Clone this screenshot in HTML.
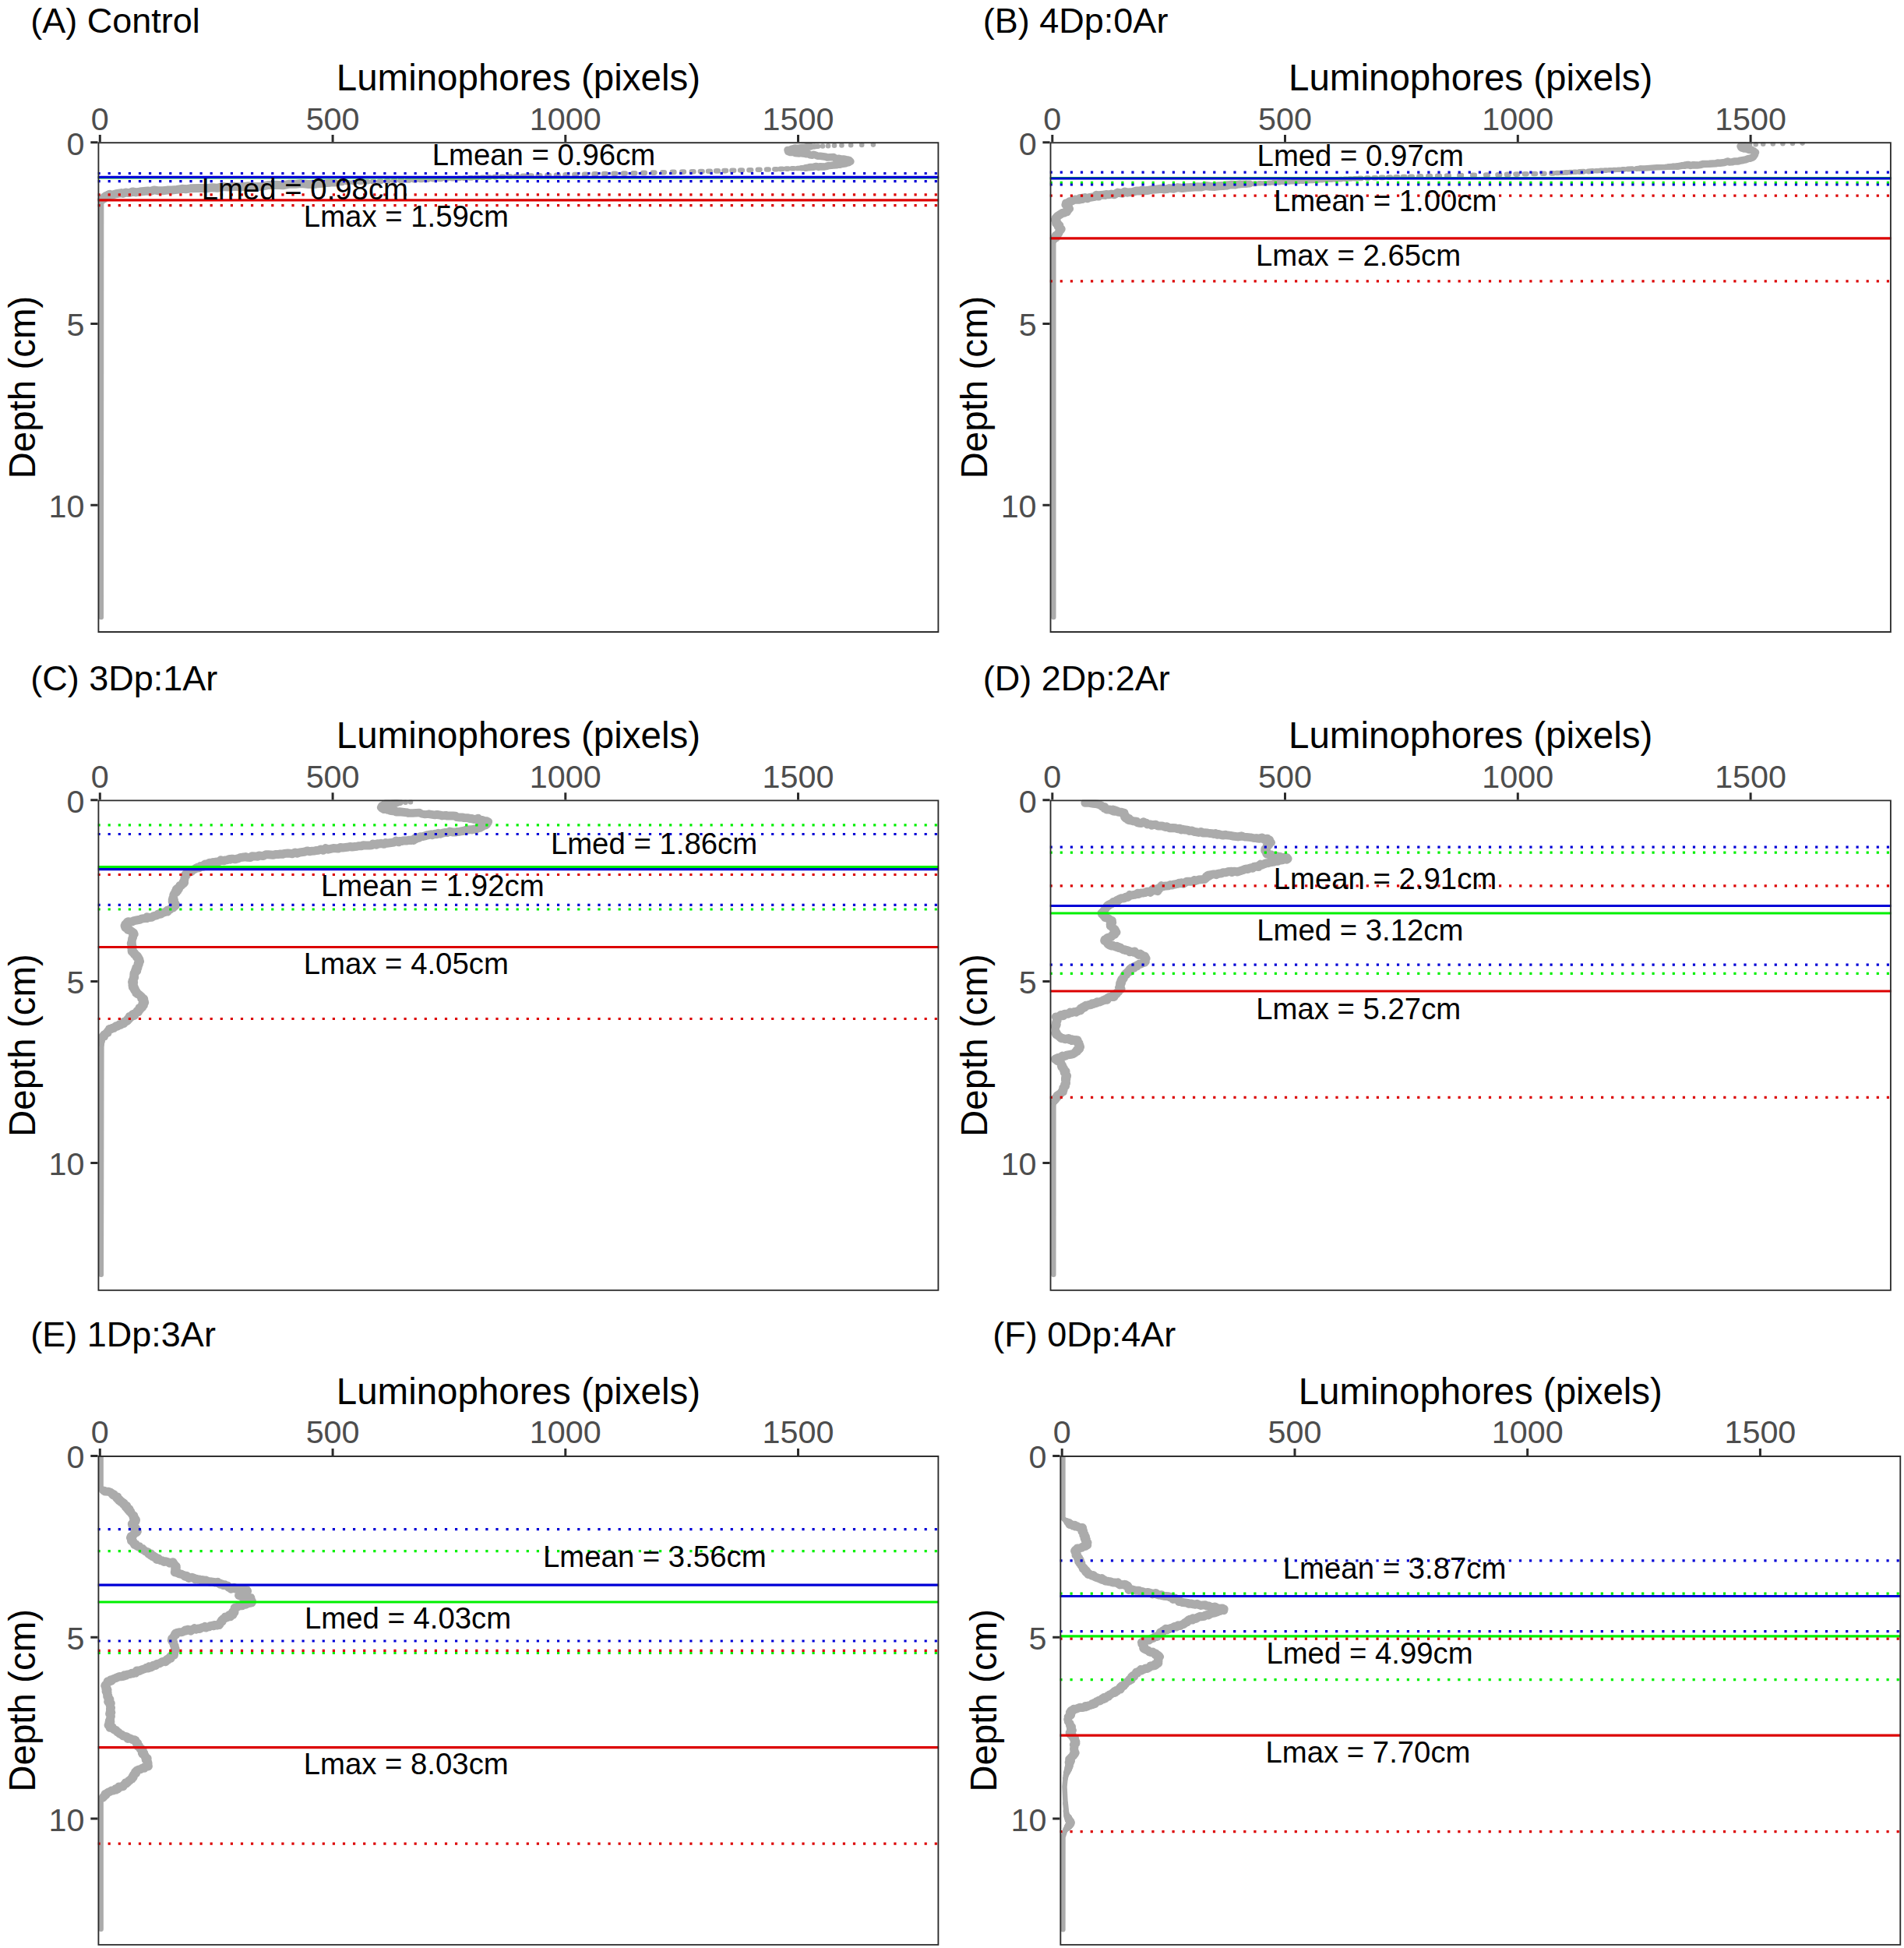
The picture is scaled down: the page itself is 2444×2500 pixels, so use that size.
<!DOCTYPE html>
<html lang="en">
<head>
<meta charset="utf-8">
<title>Luminophore depth profiles</title>
<style>
html,body{margin:0;padding:0;background:#fff;}
body{width:2444px;height:2500px;overflow:hidden;font-family:"Liberation Sans",Arial,sans-serif;}
svg{display:block;}
</style>
</head>
<body>
<svg width="2444" height="2500" viewBox="0 0 2444 2500" font-family="'Liberation Sans', Arial, sans-serif">
<rect width="2444" height="2500" fill="#fff"/>
<g id="panelA">
<clipPath id="cA"><rect x="125.5" y="182.3" width="1079.8" height="629.6"/></clipPath>
<text x="39.3" y="41.7" font-size="45.0" fill="#000" text-anchor="start">(A) Control</text>
<text x="665.4" y="115.9" font-size="47.5" fill="#000" text-anchor="middle">Luminophores (pixels)</text>
<text x="44.6" y="497.1" font-size="47.5" fill="#000" text-anchor="middle" transform="rotate(-90 44.6 497.1)">Depth (cm)</text>
<text x="128.3" y="166.5" font-size="41.3" fill="#4d4d4d" text-anchor="middle">0</text>
<text x="427.1" y="166.5" font-size="41.3" fill="#4d4d4d" text-anchor="middle">500</text>
<text x="725.8" y="166.5" font-size="41.3" fill="#4d4d4d" text-anchor="middle">1000</text>
<text x="1024.5" y="166.5" font-size="41.3" fill="#4d4d4d" text-anchor="middle">1500</text>
<text x="108.5" y="198.5" font-size="41.3" fill="#4d4d4d" text-anchor="end">0</text>
<text x="108.5" y="431.3" font-size="41.3" fill="#4d4d4d" text-anchor="end">5</text>
<text x="108.5" y="664.1" font-size="41.3" fill="#4d4d4d" text-anchor="end">10</text>
<path d="M128.3 182.3v-9.2M427.1 182.3v-9.2M725.8 182.3v-9.2M1024.5 182.3v-9.2M125.5 182.7h-9.2M125.5 415.5h-9.2M125.5 648.3h-9.2" stroke="#2b2b2b" stroke-width="3" fill="none"/>
<g clip-path="url(#cA)">
<g fill="none" stroke="#ababab" stroke-linecap="round" stroke-linejoin="round">
<path d="M1050 187.8L1045 188.1M1029 215.7L1023.7 216M130.1 259.7L129.8 792" stroke-width="6.5"/>
<path d="M1120.9 185.6h0M1106.2 185.9h0M1092.2 186.2h0M1080.4 186.5h0M1071 186.8h0M1063 187.2h0M1056 187.5h0M1016.5 216.3h2.6M1009.1 216.6h2.6M1001.7 216.9h2.6M994.3 217.2h2.6M984 217.5h2.6M972.8 217.8h2.6M961.5 218.2h2.6M950.2 218.5h2.6M939.5 218.8h2.6M929.4 219.1h2.6M919.2 219.4h2.6M909.1 219.7h2.6M898.9 220h2.6M887.8 220.3h2.6M875.3 220.6h2.6M862.8 220.9h2.6M850.2 221.3h2.6M837.7 221.6h2.6M825.2 221.9h2.6M812.6 222.2h2.6M800.1 222.5h2.6M787.6 222.8h2.6M775.1 223.1h2.6M762.5 223.4h2.6M750 223.7h2.6M737.4 224h2.6M725.6 224.4h2.6M714 224.7h2.6M702.4 225h2.6M690.7 225.3h2.6M679.9 225.6h2.6M670.8 225.9h2.6M661.8 226.2h2.6M652.7 226.5h2.6M643.7 226.8h2.6M634.7 227.1h2.6M626.2 227.5h2.6M618.5 227.8h2.6M610.7 228.1h2.6M603 228.4h2.6M595.2 228.7h2.6M587.5 229h2.6M579.7 229.3h2.6M571.7 229.6h2.6M563.6 229.9h2.6M555.4 230.2h2.6M547.3 230.6h2.6M539.2 230.9h2.6M531 231.2h2.6M522.7 231.5h2.6M513.7 231.8h2.6M504.7 232.1h2.6M495.8 232.4h2.6M486.8 232.7h2.6M477.9 233h2.6M469.7 233.3h2.6M461.5 233.7h2.6M453.3 234h2.6M445.2 234.3h2.6M436.9 235h2.6" stroke-width="6.6"/>
<path d="M1045 188.1L1040.4 188.3M130.3 258.2L130.1 259.7" stroke-width="7"/>
<path d="M1034.2 215.5L1029 215.7M130.6 256.8L130.3 258.2" stroke-width="7.5"/>
<path d="M131.1 257.1L130.6 256.8" stroke-width="8"/>
<path d="M1040.4 188.3L1036.1 188.6M1039.7 214.6L1034.2 215.5M130.5 256.3L131.1 257.1" stroke-width="9"/>
<path d="M1036.1 188.6L1033.4 189.2L1027.9 189.7L1023.6 190.4L1020.5 189.9L1018.6 190.7L1016.3 191.2L1013.4 192.8L1011 192.4L1011.5 194.5L1014.2 195.4L1017.4 195.2L1019.3 195.8L1020.5 196.5L1026.3 196.9L1028.1 196.6L1030.6 197.1L1032.5 197.2L1034.6 197.8L1038 197.5L1039.4 198.7L1043 199.2L1044.2 198.2L1047.5 199.3L1049.4 200.2L1052.8 200.2L1060 201.3L1061.7 201.9L1070.1 201.6L1072.1 203.1L1074.2 203.6L1077 203.2L1080.8 204.3L1082.5 204L1085.2 204.5L1086.5 205.2L1088.8 205L1090.4 205.7L1091.9 207.3L1090.5 207.8L1089.1 208.8L1087 209L1085.6 209.8L1080.6 210.5L1077.7 211.3L1075.4 211.1L1073.7 211.8L1070 211.9L1067.6 212.2L1064.1 212.4L1060.1 213.6L1057.3 214.1L1053.1 213.7L1050.5 214.4L1047.9 213.4L1044.7 214.2L1039.7 214.6M430.2 234.8L422.6 234.7" stroke-width="9.5"/>
<path d="M422.6 234.7L413.5 235.4M131.4 256.3L130.5 256.3" stroke-width="10"/>
<path d="M413.5 235.4L404.6 236.2M130.7 255.8L131.4 256.3" stroke-width="10.5"/>
<path d="M404.6 236.2L396.2 236.5L386.9 235.6L379.6 236.2L370.3 236.3L363.1 237.8L354.5 237.2L344.9 237.4L336.5 239.2L326.9 239.5L319.1 238.8L308.7 240L301 239.2L292.5 240.1L285.5 239.6L278.8 241.3L272.4 240.7L264.7 241.7L258.7 241.5L244.3 241.8L238.4 242.8L233.4 242.3L227 243.4L220.8 244L214.6 244.1L209.2 244.8L202.4 244.7L197.7 243.9L193.6 245.4L189.9 245.1L179.4 246.1L174.6 246.9L170.2 246L165.9 247.6L161.2 247L157.9 248.4L155.9 247.6L149 248.7L144.6 250L141.9 250.3L140.7 249.3L138.2 250.5L138.3 252L137 252.6L135.7 251.4L135.1 253.6L133.7 252.9L133 255.1L131.4 255L130.7 255.8" stroke-width="11"/>
</g>
<path d="M125.5 228H1205.3" stroke="#00f000" stroke-width="3.2"/>
<path d="M125.5 227.3H1205.3" stroke="#0000d6" stroke-width="3.2"/>
<path d="M125.5 222.5H1205.3" stroke="#0000d6" stroke-width="3.2" stroke-dasharray="3.2 9.9"/>
<path d="M125.5 232.7H1205.3" stroke="#0000d6" stroke-width="3.2" stroke-dasharray="3.2 9.9"/>
<path d="M125.5 249.9H1205.3" stroke="#dc0000" stroke-width="3.2" stroke-dasharray="3.2 9.9"/>
<path d="M125.5 256.8H1205.3" stroke="#dc0000" stroke-width="3.2"/>
<path d="M125.5 263.6H1205.3" stroke="#dc0000" stroke-width="3.2" stroke-dasharray="3.2 9.9"/>
<text x="698" y="212.3" font-size="38.35" fill="#000" text-anchor="middle">Lmean = 0.96cm</text>
<text x="391.4" y="256.3" font-size="38.35" fill="#000" text-anchor="middle">Lmed = 0.98cm</text>
<text x="521.4" y="291.1" font-size="38.35" fill="#000" text-anchor="middle">Lmax = 1.59cm</text>
<rect x="125.5" y="182.3" width="1079.8" height="629.6" fill="none" stroke="#2b2b2b" stroke-width="3.7"/>
</g>
</g>
<g id="panelB">
<clipPath id="cB"><rect x="1347.6" y="182.3" width="1080.2" height="629.6"/></clipPath>
<text x="1261.8" y="41.7" font-size="45.0" fill="#000" text-anchor="start">(B) 4Dp:0Ar</text>
<text x="1887.7" y="115.9" font-size="47.5" fill="#000" text-anchor="middle">Luminophores (pixels)</text>
<text x="1266.7" y="497.1" font-size="47.5" fill="#000" text-anchor="middle" transform="rotate(-90 1266.7 497.1)">Depth (cm)</text>
<text x="1350.8" y="166.5" font-size="41.3" fill="#4d4d4d" text-anchor="middle">0</text>
<text x="1649.5" y="166.5" font-size="41.3" fill="#4d4d4d" text-anchor="middle">500</text>
<text x="1948.3" y="166.5" font-size="41.3" fill="#4d4d4d" text-anchor="middle">1000</text>
<text x="2247.1" y="166.5" font-size="41.3" fill="#4d4d4d" text-anchor="middle">1500</text>
<text x="1330.6" y="198.5" font-size="41.3" fill="#4d4d4d" text-anchor="end">0</text>
<text x="1330.6" y="431.3" font-size="41.3" fill="#4d4d4d" text-anchor="end">5</text>
<text x="1330.6" y="664.1" font-size="41.3" fill="#4d4d4d" text-anchor="end">10</text>
<path d="M1350.8 182.3v-9.2M1649.5 182.3v-9.2M1948.3 182.3v-9.2M2247.1 182.3v-9.2M1347.6 182.7h-9.2M1347.6 415.5h-9.2M1347.6 648.3h-9.2" stroke="#2b2b2b" stroke-width="3" fill="none"/>
<g clip-path="url(#cB)">
<g fill="none" stroke="#ababab" stroke-linecap="round" stroke-linejoin="round">
<path d="M2246 185.5L2241.8 185.8L2238.9 186.3M1352.8 308.8L1352.3 311.9L1352.3 792.1" stroke-width="6.5"/>
<path d="M2313.6 183.6h0M2301 183.9h0M2288.4 184.2h0M2275.8 184.5h0M2263.2 184.8h0M2253.7 185.2h0M2082.5 217.4h2.6M2076.8 217.7h2.6M2071.1 218h2.6M2065.5 218.3h2.6M2059.8 218.6h2.6M2054.2 218.9h2.6M2048.5 219.3h2.6M2020.4 220.8h2.6M2014.8 221.1h2.6M2009.2 221.4h2.6M2003.5 221.7h2.6M1997.9 222h2.6M1991.3 222.4h2.6M1979.9 222.7h2.6M1968.4 223h2.6M1956.9 223.3h2.6M1945.5 223.6h2.6M1934 223.9h2.6M1922.5 224.2h2.6M1907.2 224.5h2.6M1890.2 224.8h2.6M1873.3 225.1h2.6M1857.2 225.5h2.6M1845.2 225.8h2.6M1833.3 226.1h2.6M1821.4 226.4h2.6M1810.2 226.7h2.6M1800.8 227h2.6M1791.5 227.3h2.6M1782.2 227.6h2.6M1772.8 227.9h2.6M1763.5 228.2h2.6M1754.1 228.6h2.6M1744.8 228.9h2.6M1738.2 229.2h2.6M1731.9 229.5h2.6M1725.7 229.8h2.6M1719.5 230.1h2.6M1713.3 230.4h2.6M1707 230.7h2.6M1700.8 231h2.6M1694.7 231.3h2.6M1688.7 231.7h2.6M1682.7 232h2.6M1676.8 232.3h2.6M1670.8 232.6h2.6M1664.8 232.9h2.6M1658.8 233.2h2.6M1652.8 233.5h2.6M1646.7 233.8h2.6M1640.5 234.1h2.6M1634.2 234.4h2.6M1628.1 234.7h2.6M1621.9 235.2h2.6M1615.8 235.3h2.6M1609.2 235.9h2.6" stroke-width="6.6"/>
<path d="M2105.8 216L2100.7 216.4M2095 216.7L2089.5 217.1M2044.2 219.6L2038.6 219.9M2032.9 220.2L2027.3 220.5" stroke-width="7"/>
<path d="M2142.6 214L2137.2 214.5L2127.1 214.8L2111.1 215.9L2105.8 216M1352.8 308.2L1352.8 308.8" stroke-width="7.5"/>
<path d="M2147.7 213.7L2142.6 214M1353 307.9L1352.8 308.2" stroke-width="8"/>
<path d="M2153 213.6L2147.7 213.7M1353.2 307.5L1353 307.9" stroke-width="8.5"/>
<path d="M2162.7 212.2L2158.4 212.6L2153 213.6M1604.5 236L1599 236.2M1353.8 306.5L1353.2 307.5" stroke-width="9"/>
<path d="M2238.9 186.3L2237.1 186.3L2235.4 186.6L2234.1 187.7L2234.8 189.2L2235.8 190L2238.2 190.9L2240.7 191L2242.6 191.4L2245 192.5L2248.3 192L2249.6 193.4L2251.2 193.8L2252 194.8L2253.5 195.5L2252.4 196.7L2252.6 198.2L2250.8 201.1L2249.1 202.3L2246.4 203.2L2244.6 203.4L2240.7 204.9L2237.9 205.4L2236.2 205.8L2233.2 206.2L2231.7 206.8L2230.3 207L2226.2 207L2223.3 207.8L2220.1 207.9L2217.8 207.1L2213.6 208.5L2207.6 209.3L2204.8 209.1L2202.6 209.8L2197.9 209.9L2194 210.2L2186.6 210.4L2182.2 211.6L2178.6 212.1L2173.6 211.7L2170.1 212.4L2166.7 211.4L2162.7 212.2M1599 236.2L1591.4 236.4M1353.3 306.8L1353.8 306.5" stroke-width="9.5"/>
<path d="M1591.4 236.4L1585.5 237.3M1353.4 306L1353.3 306.8" stroke-width="10"/>
<path d="M1585.5 237.3L1580.6 236.9L1575 238M1353.4 306L1353.4 306" stroke-width="10.5"/>
<path d="M1575 238L1569.7 238.6L1564.2 238.7L1559.6 239.4L1553.3 239.3L1547.4 238.5L1542.1 240L1537.3 239.7L1523.4 240.7L1517.5 241.5L1511.9 240.6L1506.5 242.2L1500.7 241.6L1497.9 242.6L1493.7 242.9L1490.1 242.2L1483.2 243.1L1478.9 243.3L1472.2 244.6L1468.3 244.9L1466 243.9L1463.4 245.1L1458.6 245.1L1453.7 246.6L1450.3 246.7L1447.4 247.2L1443.7 246L1440.6 248.2L1434.7 247.1L1430.6 249.7L1426.5 249.1L1422.8 249.8L1420 249.6L1418.6 250.4L1416.4 250.1L1410.2 250.7L1410.2 252.1L1407.2 250.4L1405.2 252.4L1398 253.6L1396 254.7L1392.5 253.6L1389.4 254.1L1389.3 255.5L1386 254.5L1386.2 256.1L1384.8 256.3L1381.9 256.3L1379.7 256L1374.6 258.4L1373 258.6L1370.6 260.4L1368.4 260.8L1368.3 262.6L1368.4 261.3L1368 262.6L1369.5 263.3L1369.9 265.1L1370.6 266.5L1371.6 265.3L1371.2 267.2L1372.6 267.9L1371.2 268.1L1370.8 269.8L1369.4 270L1369.6 271.8L1367.7 271.6L1366.3 273L1363.7 273.5L1357.1 277.7L1356.4 278.7L1355 279.9L1356.3 280.8L1354.3 282L1355.2 283.5L1355.6 285.2L1355.6 286.6L1357.2 285.9L1356.9 287.5L1358.2 287.4L1359 289L1358.1 290.6L1359.9 289.3L1358.5 289.3L1360.1 290.3L1360.1 292L1360.3 293.6L1361.1 295.4L1362.2 293.9L1360.3 295.3L1358.9 299.3L1356.3 301.9L1357.5 300.4L1356.8 302.2L1355.5 302.2L1355.3 302.2L1356.3 303.8L1355.3 305.1L1354.6 303.8L1354.3 305.3L1353.4 306" stroke-width="11"/>
</g>
<path d="M1347.6 228.6H2427.8" stroke="#00f000" stroke-width="3.2"/>
<path d="M1347.6 234.4H2427.8" stroke="#00f000" stroke-width="3.2" stroke-dasharray="3.2 9.9"/>
<path d="M1347.6 229H2427.8" stroke="#0000d6" stroke-width="3.2"/>
<path d="M1347.6 221.2H2427.8" stroke="#0000d6" stroke-width="3.2" stroke-dasharray="3.2 9.9"/>
<path d="M1347.6 237H2427.8" stroke="#0000d6" stroke-width="3.2" stroke-dasharray="3.2 9.9"/>
<path d="M1347.6 251.2H2427.8" stroke="#dc0000" stroke-width="3.2" stroke-dasharray="3.2 9.9"/>
<path d="M1347.6 305.9H2427.8" stroke="#dc0000" stroke-width="3.2"/>
<path d="M1347.6 360.9H2427.8" stroke="#dc0000" stroke-width="3.2" stroke-dasharray="3.2 9.9"/>
<text x="1746.2" y="213.4" font-size="38.35" fill="#000" text-anchor="middle">Lmed = 0.97cm</text>
<text x="1778.2" y="271.2" font-size="38.35" fill="#000" text-anchor="middle">Lmean = 1.00cm</text>
<text x="1743.6" y="340.6" font-size="38.35" fill="#000" text-anchor="middle">Lmax = 2.65cm</text>
<rect x="1347.6" y="182.3" width="1080.2" height="629.6" fill="none" stroke="#2b2b2b" stroke-width="3.7"/>
</g>
</g>
<g id="panelC">
<clipPath id="cC"><rect x="125.5" y="1026.4" width="1079.8" height="630.4"/></clipPath>
<text x="39.3" y="885.8" font-size="45.0" fill="#000" text-anchor="start">(C) 3Dp:1Ar</text>
<text x="665.4" y="960" font-size="47.5" fill="#000" text-anchor="middle">Luminophores (pixels)</text>
<text x="44.6" y="1341.6" font-size="47.5" fill="#000" text-anchor="middle" transform="rotate(-90 44.6 1341.6)">Depth (cm)</text>
<text x="128.3" y="1010.6" font-size="41.3" fill="#4d4d4d" text-anchor="middle">0</text>
<text x="427.1" y="1010.6" font-size="41.3" fill="#4d4d4d" text-anchor="middle">500</text>
<text x="725.8" y="1010.6" font-size="41.3" fill="#4d4d4d" text-anchor="middle">1000</text>
<text x="1024.5" y="1010.6" font-size="41.3" fill="#4d4d4d" text-anchor="middle">1500</text>
<text x="108.5" y="1042.6" font-size="41.3" fill="#4d4d4d" text-anchor="end">0</text>
<text x="108.5" y="1275.4" font-size="41.3" fill="#4d4d4d" text-anchor="end">5</text>
<text x="108.5" y="1508.2" font-size="41.3" fill="#4d4d4d" text-anchor="end">10</text>
<path d="M128.3 1026.4v-9.2M427.1 1026.4v-9.2M725.8 1026.4v-9.2M1024.5 1026.4v-9.2M125.5 1026.8h-9.2M125.5 1259.6h-9.2M125.5 1492.4h-9.2" stroke="#2b2b2b" stroke-width="3" fill="none"/>
<g clip-path="url(#cC)">
<g fill="none" stroke="#ababab" stroke-linecap="round" stroke-linejoin="round">
<path d="M130.4 1340.5L129.8 1635.7" stroke-width="6.5"/>
<path d="M527 1029.3h0M520.5 1029.7h0" stroke-width="6.6"/>
<path d="M130.8 1337.1L130.4 1340.5" stroke-width="7"/>
<path d="M131.1 1334.5L131 1336.2L130.8 1337.1" stroke-width="7.5"/>
<path d="M131 1332.2L131.1 1334.5" stroke-width="8"/>
<path d="M513.7 1029.8L509.7 1030.2M131.7 1331.3L131 1332.2" stroke-width="8.5"/>
<path d="M132.2 1330.5L131.7 1331.3" stroke-width="9"/>
<path d="M509.7 1030.2L507.6 1030.8" stroke-width="9.5"/>
<path d="M538.1 1043L541.8 1044.6L545.5 1045.2L550.5 1044.7M131.9 1330L132.2 1330.5" stroke-width="10"/>
<path d="M507.6 1030.8L505.3 1031M522.7 1042.9L525.1 1043.6L529.9 1043.5L538.1 1043M550.5 1044.7L558.3 1046L561.1 1045.5M133.4 1330.1L131.9 1330" stroke-width="10.5"/>
<path d="M505.3 1031L502.7 1031.3L499.3 1031.9L496.3 1031.1L495.3 1032.1L493.3 1032.7L491.6 1034.6L490.3 1034.5L489.4 1036.2L490.3 1037.1L493 1038.5L496.3 1038.6L497.6 1039.2L500.7 1038.7L501 1040.3L504.4 1040.8L504.4 1039.4L507.4 1040.7L508.4 1041.9L512.6 1041.8L522.7 1042.9M561.1 1045.5L565.3 1046.1L567.5 1046.9L572 1046.4L573.7 1046.9L577.6 1047.1L581.6 1047L584.5 1047.2L586.3 1048.6L590.3 1049L592.8 1048.9L595.6 1049.5L600.7 1049.8L602.9 1050.4L605.6 1050.6L608.7 1051.5L610.5 1051.5L613.6 1050.2L613.5 1052.1L619 1052.6L621.7 1053.4L624.3 1053.8L624.3 1055.2L626 1056L626.6 1054.5L625.6 1055.8L625 1057.5L623.8 1058.7L621.7 1059.4L619.3 1058.8L618.1 1059.5L618.6 1061L616.4 1060.6L616.1 1062.4L612.3 1063.2L610.5 1064.5L608.7 1063.9L605.4 1064.9L603.9 1064.7L598.5 1065L596.8 1066L590.2 1067.2L587.1 1067.4L585 1068L580.8 1067.9L577.1 1067.1L574 1068.6L571.7 1068.4L568.2 1069.1L565 1070.2L562.7 1069.2L560.6 1070.8L558.1 1070.2L555.2 1071.6L553.4 1070.8L547.8 1072L546.2 1072.6L543 1073.5L539.1 1073.8L538.1 1075.3L536.7 1075.4L534.4 1074.7L533.8 1076.8L532.3 1076.2L531 1078.4L529.3 1077.7L527.6 1078.5L524.4 1078.2L522.6 1079L520.1 1078.8L517.1 1079L515.8 1079.6L512.4 1079.4L511.9 1080.8L508.3 1079L505.7 1081L496.5 1082.3L495.1 1081.6L493.1 1083.3L489 1082.3L487.3 1083L484.3 1082.7L483.1 1084.1L478.7 1083.1L477.5 1084.7L474.5 1084.9L469.9 1084.9L466.2 1084.7L464.3 1085.7L460.9 1085.7L458.5 1086.2L455.5 1086.5L451.9 1087.1L449.1 1086.5L445.7 1087.3L439.9 1088L436.8 1087.5L434 1089.1L431 1088.7L427.9 1088.6L421.1 1090.2L418 1088.6L414.9 1091.2L412.2 1089.9L408.9 1091.3L406.4 1091.4L403.9 1092L399.9 1092.2L397.8 1092.8L394.3 1091.9L390.5 1093.3L384.7 1094L381.2 1095.2L378.9 1094L375.1 1095.8L371.8 1095.2L369.4 1095L365.1 1095.4L362.8 1096.3L360 1096L356.9 1096.6L353.4 1096.6L350.2 1097.3L344.4 1096.7L341.2 1096.7L338.1 1098.4L335.9 1098.4L332.5 1098L330.7 1099.3L327.4 1098.9L323.7 1098.7L321.3 1100.5L316.9 1100.3L315.3 1099.6L311 1100.3L308.8 1100.4L306.2 1101.7L301.7 1102.8L298.4 1102.2L296.9 1102.2L295.7 1103.1L294.3 1102.5L291.6 1103.7L288.8 1103.9L287.6 1104.8L285.4 1104.6L283.6 1103.8L281.5 1105.6L276.7 1106.3L275.4 1107.1L273.4 1106.6L271.7 1107.4L268.8 1107.3L264.2 1110L263.3 1108.9L261.3 1110.7L261.1 1112.1L259.4 1112L257.4 1111.5L255.4 1113.9L254.2 1113L252 1113.8L250.5 1115.2L248.1 1116.2L246.9 1116.9L245.7 1118.6L243.5 1119.3L244.7 1117.9L242.7 1118L243.7 1118.9L242 1119.2L241 1120.6L239.5 1121.1L238.1 1122.1L238.7 1124.1L239.8 1122.5L237.8 1123.9L237 1126.1L237 1128L236.5 1129.4L236.8 1129.1L236.4 1130.9L235.1 1132.1L236.6 1132.5L235.7 1133.8L235.2 1132.5L234.9 1133.9L233.5 1135.6L232.3 1136.7L230.9 1136.4L231.2 1137.9L229.8 1139L229.5 1140.9L227.6 1140.1L228.3 1142L228 1143.3L226.4 1141.2L226.8 1143.2L226.6 1144.9L225.3 1143.8L224.6 1145.7L223.6 1147L222.8 1148.6L222.9 1150L222.6 1151.4L221.9 1152.6L221.3 1154.7L222.3 1155.6L221.2 1157.1L223.3 1155L222.3 1156.6L223.1 1157.9L224.4 1158.8L225.5 1160.7L224 1161.5L225.2 1160.7L224.5 1161.8L225.7 1161L225.1 1162.4L223.8 1163L222.4 1164.8L221 1164L221 1165.4L219.7 1165.4L218.4 1167L215.6 1168.7L215.1 1170.1L214.8 1168.3L212.6 1170.3L209.4 1171.4L206.3 1171.3L206.9 1172.9L205 1173.3L202.6 1173.3L201.5 1174.7L197.5 1175.6L194.8 1177.2L191.6 1177.4L189 1176.9L188.3 1178.6L186.1 1178.6L182.5 1178.9L181.3 1179.3L179.4 1180.3L173.8 1181.2L171.4 1181.9L169.6 1182.9L166.6 1183L164.2 1182.7L162.9 1184L162.9 1187L160.9 1185.9L162.4 1186L161.6 1187.4L160.1 1188L161.3 1188.7L161.5 1190.4L160.2 1188.5L161 1190.7L162.3 1190.3L164.1 1192.5L162.9 1191.3L164.9 1192.3L164.1 1193.4L165.7 1193.1L171.4 1197L172.2 1198.9L170.7 1199.4L170.7 1201.9L170.5 1203.3L169.7 1204.5L169.2 1208.3L169.4 1210.9L168.7 1209.4L168.3 1210.9L169.5 1212.6L170 1214.7L168.6 1215.4L169.8 1213.9L170.3 1215.7L168.6 1216.1L169.5 1217.6L169.1 1219.6L169.3 1221.3L170.8 1221.2L172.2 1222.4L170.8 1222.8L172.3 1223.6L172.6 1225L173 1223.7L174.1 1225.1L175.1 1226L176.3 1226.7L175.2 1228.2L176.9 1227.5L176.9 1229L178.1 1229.8L177.3 1228.5L178.9 1231.2L178.4 1232.7L179.6 1233.8L178.3 1233.3L178.6 1234.9L177.4 1235.7L178.5 1236.7L177.1 1236.6L178.3 1237.6L177.4 1239.6L176.9 1241.8L174.8 1241.7L176.8 1242.1L176.3 1243.3L174.7 1243L173.9 1244.8L175.7 1246.2L174.3 1245.5L173.2 1246.7L173.6 1248.5L172.1 1248.9L172.8 1250.5L172.9 1248.8L171.9 1250.1L171.8 1253.1L172.7 1254.1L171.3 1254.9L171.5 1256.9L171.3 1258.9L170.1 1258.2L170.9 1259.6L169.6 1260.3L171.6 1260.9L169.8 1261.3L171.4 1262.9L170.2 1261.9L170 1264.7L171.1 1263.9L170.6 1265.5L172 1266L170.4 1267L171.9 1268.1L173.2 1268.8L172.4 1270.3L173.4 1271.8L174.9 1272.4L174.9 1274.4L176.8 1275.1L178 1276.1L176.7 1275.7L178.8 1276.6L180.3 1277.9L180.9 1279.2L182.4 1280.1L181.6 1279L181.6 1281.3L183.2 1282.7L184.7 1282L184.2 1283.4L185.3 1284.9L183.8 1285.7L185.3 1285L183.9 1285.5L185.7 1286.5L183.9 1285.3L183.8 1287.3L185.1 1286.8L183.6 1286.9L182.9 1288L184 1288.8L182.9 1289.4L183.9 1288.3L184.4 1290L182.8 1290.1L182.7 1292.7L181.2 1292L181.2 1294L178.9 1293.8L178.6 1295.1L179.1 1296.4L177.5 1296.6L176.1 1297.5L177.6 1298.7L176 1298.2L174.1 1300.4L172.1 1300.8L172.7 1303.4L171.3 1303.4L170 1302L169.8 1303.8L171.4 1303.6L168.2 1305.1L166.3 1304.5L167.2 1306.2L164.9 1306.6L165.7 1307.7L164.2 1308L164.1 1309.5L162.7 1310.8L162.9 1309L162.1 1310.6L158.7 1311.6L159 1313.5L157.6 1313.5L154.7 1315.3L153.2 1314.8L152.1 1316.1L150.4 1317.3L152.1 1316.3L150.6 1316.9L149 1316.8L147.2 1318.2L146.2 1319.4L144.4 1319.3L143 1320.5L141.7 1320.3L140.3 1320.8L139.9 1322.1L138.4 1323.5L138.1 1325.4L136.6 1325.6L135.3 1327.4L133.9 1327.8L133.5 1330.1L133.4 1330.1" stroke-width="11"/>
</g>
<path d="M125.5 1058.9H1205.3" stroke="#00f000" stroke-width="3.2" stroke-dasharray="3.2 9.9"/>
<path d="M125.5 1112.5H1205.3" stroke="#00f000" stroke-width="3.2"/>
<path d="M125.5 1167H1205.3" stroke="#00f000" stroke-width="3.2" stroke-dasharray="3.2 9.9"/>
<path d="M125.5 1070.5H1205.3" stroke="#0000d6" stroke-width="3.2" stroke-dasharray="3.2 9.9"/>
<path d="M125.5 1115.6H1205.3" stroke="#0000d6" stroke-width="3.2"/>
<path d="M125.5 1161.3H1205.3" stroke="#0000d6" stroke-width="3.2" stroke-dasharray="3.2 9.9"/>
<path d="M125.5 1122.5H1205.3" stroke="#dc0000" stroke-width="3.2" stroke-dasharray="3.2 9.9"/>
<path d="M125.5 1215.5H1205.3" stroke="#dc0000" stroke-width="3.2"/>
<path d="M125.5 1307.5H1205.3" stroke="#dc0000" stroke-width="3.2" stroke-dasharray="3.2 9.9"/>
<text x="839.5" y="1096" font-size="38.35" fill="#000" text-anchor="middle">Lmed = 1.86cm</text>
<text x="555.3" y="1150.1" font-size="38.35" fill="#000" text-anchor="middle">Lmean = 1.92cm</text>
<text x="521.3" y="1250" font-size="38.35" fill="#000" text-anchor="middle">Lmax = 4.05cm</text>
<rect x="125.5" y="1026.4" width="1079.8" height="630.4" fill="none" stroke="#2b2b2b" stroke-width="3.7"/>
</g>
</g>
<g id="panelD">
<clipPath id="cD"><rect x="1347.6" y="1026.4" width="1080.2" height="630.4"/></clipPath>
<text x="1261.8" y="885.8" font-size="45.0" fill="#000" text-anchor="start">(D) 2Dp:2Ar</text>
<text x="1887.7" y="960" font-size="47.5" fill="#000" text-anchor="middle">Luminophores (pixels)</text>
<text x="1266.7" y="1341.6" font-size="47.5" fill="#000" text-anchor="middle" transform="rotate(-90 1266.7 1341.6)">Depth (cm)</text>
<text x="1350.8" y="1010.6" font-size="41.3" fill="#4d4d4d" text-anchor="middle">0</text>
<text x="1649.5" y="1010.6" font-size="41.3" fill="#4d4d4d" text-anchor="middle">500</text>
<text x="1948.3" y="1010.6" font-size="41.3" fill="#4d4d4d" text-anchor="middle">1000</text>
<text x="2247.1" y="1010.6" font-size="41.3" fill="#4d4d4d" text-anchor="middle">1500</text>
<text x="1330.6" y="1042.6" font-size="41.3" fill="#4d4d4d" text-anchor="end">0</text>
<text x="1330.6" y="1275.4" font-size="41.3" fill="#4d4d4d" text-anchor="end">5</text>
<text x="1330.6" y="1508.2" font-size="41.3" fill="#4d4d4d" text-anchor="end">10</text>
<path d="M1350.8 1026.4v-9.2M1649.5 1026.4v-9.2M1948.3 1026.4v-9.2M2247.1 1026.4v-9.2M1347.6 1026.8h-9.2M1347.6 1259.6h-9.2M1347.6 1492.4h-9.2" stroke="#2b2b2b" stroke-width="3" fill="none"/>
<g clip-path="url(#cD)">
<g fill="none" stroke="#ababab" stroke-linecap="round" stroke-linejoin="round">
<path d="M1352.8 1415.9L1352.4 1417.2L1352.3 1635.7" stroke-width="6.5"/>
<path d="M1353.3 1414.6L1352.8 1415.9" stroke-width="7"/>
<path d="M1353.6 1414L1353.3 1414.6" stroke-width="7.5"/>
<path d="M1354.1 1413.2L1353.6 1414" stroke-width="8"/>
<path d="M1353.6 1411.8L1354.1 1413.2" stroke-width="8.5"/>
<path d="M1354.7 1323L1354.2 1325.8M1354.3 1411.6L1353.6 1411.8" stroke-width="9"/>
<path d="M1354.8 1320.9L1354.5 1322.5L1354.7 1323M1354.9 1411.3L1354.3 1411.6" stroke-width="9.5"/>
<path d="M1354.8 1317.3L1355 1320.8L1354.8 1320.9M1354.2 1325.8L1355.5 1325.8M1355.6 1410L1354.9 1411.3" stroke-width="10"/>
<path d="M1593.8 1073L1598.2 1074.2L1600.3 1074.2L1605.3 1074.7L1609.3 1075.7L1612.9 1075.7M1355.3 1313.9L1354.7 1315.6L1356.3 1315.8L1354.9 1315.2L1354 1317.6L1354.8 1317.3M1355.5 1325.8L1356.2 1327M1355.1 1408.9L1355.6 1410" stroke-width="10.5"/>
<path d="M1392.9 1030.3L1396.5 1030.1L1403.5 1031.2L1408.3 1031.7L1409.9 1032.4L1412 1033.1L1413.5 1033.9L1414.8 1035L1417.8 1035.7L1418.1 1037.5L1419.6 1037.7L1420.6 1038.9L1424.3 1039L1425.9 1039.6L1428.4 1039.1L1428.1 1040.7L1431.1 1041.2L1431.2 1039.8L1434.4 1041.1L1435.5 1042.3L1438.7 1042.2L1442.3 1043.1L1441 1044L1442.7 1043.9L1441.3 1043.6L1443.1 1043.3L1442.8 1045.1L1445 1047.4L1443.9 1048.9L1445.3 1050.2L1447.3 1050.9L1449.5 1050.6L1448.5 1052.5L1452.1 1053L1454.6 1053.8L1459.1 1054.2L1459.9 1055.6L1462.1 1056.2L1465.1 1056.4L1467.8 1054.9L1469.6 1055.9L1471.3 1056.1L1472.8 1057.9L1474.5 1057.7L1476.9 1058L1478.3 1059.1L1480.7 1058.4L1483.5 1058.2L1485.8 1059.8L1487.7 1060.1L1491.6 1059.9L1495.7 1061.4L1497.7 1060.8L1501.3 1062.8L1505.5 1062.5L1509.1 1062.8L1511.4 1063.7L1514.1 1063.2L1516 1064.9L1518.2 1064.3L1521.6 1065.1L1524.4 1065.2L1526.7 1066.4L1530 1065.9L1531.9 1067L1534 1067.6L1536 1067.8L1538.9 1068.4L1541.6 1067.5L1544.1 1069L1547 1068.7L1550.1 1069L1552.4 1069.5L1556.2 1069.7L1558 1070.5L1560.1 1069.6L1562.4 1071.2L1564.3 1070.6L1568.3 1071.7L1570.2 1072L1572.8 1071.2L1574.4 1071.8L1579.7 1072.4L1582.2 1073L1589.1 1073.9L1593.8 1073M1612.9 1075.7L1616.9 1076.2L1620.1 1075L1622.3 1077.2L1623.6 1076.6L1626.7 1076.2L1627.8 1078.8L1629.6 1078L1629.7 1079.4L1631.3 1081.2L1630 1079.4L1629.7 1081.4L1627.6 1082.6L1629 1083.7L1627.2 1082.6L1628.7 1084.5L1626.7 1083.5L1628.2 1085.1L1626.5 1085.3L1626.6 1086.6L1625.5 1087.7L1625.5 1089.5L1623.9 1089.9L1623.9 1091.6L1624.2 1090.3L1623.8 1091.7L1625.4 1093.2L1625.7 1095.6L1626.8 1094.4L1626.4 1096.2L1629.8 1096.9L1631.9 1097.1L1634.1 1098.8L1636.7 1098.8L1638.2 1098.4L1641.3 1099.7L1642.8 1099.3L1646.3 1100.9L1649.5 1100L1652.1 1100.8L1653.1 1102.1L1651.5 1103.2L1648.7 1102.6L1647 1103.5L1643.9 1104.1L1641.8 1104.3L1640.8 1105.2L1638.9 1105L1637.5 1104.1L1635.7 1106L1629.2 1107L1627.8 1107.8L1625.1 1107.7L1622.6 1109L1619.1 1110.4L1617.9 1109.3L1615.7 1111L1615.3 1112.5L1611.7 1112.1L1609.7 1112.2L1608 1114.2L1606.6 1113.4L1603.9 1114.2L1601.6 1115.6L1599.8 1115L1597.6 1115.6L1595.7 1116.6L1588.1 1119L1586.3 1118.5L1583.9 1118.3L1581.2 1119.6L1580.9 1118.3L1577.2 1118.4L1573.9 1119.7L1569.8 1119.7L1567.7 1121L1565.9 1121L1563.1 1121.5L1561.3 1122.6L1559.9 1122L1557.1 1122L1554.8 1122.5L1551.5 1124.5L1550.1 1123.6L1551.9 1122.9L1549.9 1124.3L1548.5 1125L1548.7 1126.4L1546.4 1128.4L1538.4 1129.1L1533.4 1130.9L1533.2 1129.5L1531.4 1130.7L1529.5 1131.3L1523.5 1131.2L1519 1134.1L1516.9 1132.9L1515.8 1133.8L1513.2 1133.2L1512.2 1134.3L1509.6 1134.4L1508.3 1135L1506.8 1135L1505 1136L1502.2 1135.6L1500.1 1136.7L1494.1 1137.3L1492.8 1137.8L1490.8 1136.8L1489.8 1138.3L1488.1 1139.4L1487.7 1141.3L1485.6 1140.4L1486.3 1142.3L1486 1143.7L1484.9 1142.7L1483.5 1143L1479.3 1141.6L1478.2 1143.6L1476.5 1145.3L1474.2 1144.3L1472.2 1144.2L1470.3 1145.4L1469 1145.4L1467.1 1146.1L1465.7 1145.9L1464 1146.2L1461.3 1147.4L1460.4 1146.3L1459 1147.4L1455.8 1148.4L1451.4 1149.1L1450.1 1148.5L1449 1150.3L1447.4 1151.5L1445.6 1151.1L1444.1 1151.8L1443.2 1152.8L1441 1153L1439 1152.8L1436.6 1154L1435.9 1155.1L1434.9 1156.1L1432.2 1157.5L1433.6 1155.4L1430.3 1158.3L1429.1 1157.5L1428.3 1158.6L1427 1159.1L1426.4 1160.3L1424.9 1160.3L1423.4 1161.9L1424 1160.7L1421.6 1162.2L1422.8 1161.3L1422 1162.8L1420.6 1163.4L1419.7 1165.2L1417.7 1167.7L1417.3 1169.3L1415.9 1170.5L1417 1168.7L1415.3 1170.7L1414.1 1171.8L1414.8 1173.3L1416.2 1174.6L1416.6 1173.1L1416.6 1175L1418.3 1174.6L1417.1 1175.4L1418.7 1175.6L1418.4 1177.5L1419.8 1176.9L1421.5 1178.5L1423 1179L1424.2 1179.7L1424.9 1181L1427.4 1181.4L1426.3 1182.3L1427.1 1183.5L1426.1 1184.7L1427.7 1183.9L1426.5 1184.6L1427.1 1187.4L1425.2 1186.3L1426.9 1186.4L1426.7 1187.8L1425.4 1188.4L1426.8 1189.1L1428.2 1190.7L1427.3 1188.9L1428.5 1191.1L1431 1192.7L1429.9 1193.8L1431.5 1193.6L1432.9 1196.5L1431.9 1197.4L1430.4 1197.5L1430.8 1199.3L1429.5 1198.6L1428.1 1199.8L1426.5 1202.3L1424.4 1202.6L1422.4 1203.3L1422.8 1204.6L1421.4 1203.7L1420.2 1204.5L1419.2 1206L1417.7 1207.2L1418.1 1205.7L1418.6 1207.1L1419.7 1208.7L1420.9 1207.9L1422 1209.5L1422 1211.3L1421.6 1209.8L1421.8 1211.2L1422.8 1210.3L1422.6 1212L1424.3 1213L1427.1 1214L1428.7 1213.4L1431.6 1215.1L1433.4 1214.3L1434.8 1216.1L1435.9 1215.3L1436.8 1216.7L1438.3 1216.1L1439.3 1217.2L1442.3 1219L1443.9 1218.8L1445.1 1219.8L1447 1219.6L1449 1220.4L1450.2 1221.7L1451.4 1221.2L1453 1221.4L1455.4 1222.2L1456.3 1221L1457.9 1222.8L1461.6 1225.4L1463.7 1224.1L1465.6 1225.5L1466.6 1226.6L1469.6 1227.1L1468.8 1228.6L1470.2 1228.7L1471.1 1230.2L1469.9 1228.9L1470.6 1230.5L1469.9 1232.1L1470.3 1234.2L1468.8 1233.7L1469 1235.3L1466.4 1236.1L1463.9 1237.3L1462.6 1237L1461.4 1238L1459.8 1238.5L1459.3 1240L1457.4 1239.9L1456 1240.4L1455.5 1242.2L1452.5 1242.1L1454.1 1242.5L1452.3 1243.7L1450.6 1243.4L1449.3 1245.2L1450.7 1246.6L1449.1 1245.9L1447.5 1247.1L1447.2 1248.9L1445.1 1249.3L1445.7 1250.9L1445.2 1249.2L1443 1251.9L1442.5 1253.5L1442.4 1255.6L1441.1 1255.3L1441.1 1257.2L1439.7 1256.9L1440.2 1259.3L1438.9 1258.6L1439.4 1260L1438.2 1260.7L1439.6 1261.3L1437.7 1261.7L1438.9 1263.3L1437.7 1262.3L1437.4 1265.1L1438 1263.9L1437.6 1265.9L1436.7 1267.4L1439.1 1269.2L1437.5 1269.7L1435.6 1272.9L1433.8 1273.8L1433.2 1275.1L1433.4 1275.4L1431.9 1276.5L1429.9 1276.1L1431.3 1277L1429.7 1277.4L1429.9 1279.6L1427.6 1279.3L1426 1279.5L1424.2 1279.4L1422.2 1280.5L1420.8 1281.7L1421.2 1283.1L1420.4 1281.9L1419 1282.4L1417.7 1283.8L1416.3 1283.6L1415.2 1284.4L1411 1286.1L1408.1 1285.7L1407.1 1287.6L1405.2 1287.3L1403.6 1288.4L1401.9 1287.8L1401.4 1289.2L1399.4 1289.8L1397.7 1289.4L1395.9 1290.5L1394 1290.2L1393.4 1291.8L1391.7 1291.6L1392 1293.1L1389.9 1292.4L1389.7 1294.4L1387.2 1294.2L1386.8 1295.5L1387.1 1296.8L1385.4 1297L1384.1 1297.5L1382.2 1297.9L1381.5 1299.1L1379 1298.6L1375.3 1299.7L1373.7 1299L1371.7 1300.8L1370.5 1301.3L1366.6 1301.2L1365 1302.2L1364.9 1303.8L1363.1 1303.8L1361.6 1302.4L1360.7 1304.1L1358.9 1305.5L1357.6 1305.4L1355.3 1304.9L1356.5 1306.6L1356.5 1308.1L1357.1 1309.9L1356 1311.2L1356.5 1309.4L1355.5 1312.6L1356.1 1313.9L1355.3 1313.9M1356.2 1327L1356.3 1325.7L1355.8 1327.8L1357.8 1328L1358.4 1329.4L1360.3 1330.5L1361 1331.7L1362.3 1332.7L1363.8 1332.3L1367.2 1333.8L1368.9 1333.2L1371.6 1332.6L1372.6 1334.5L1375.5 1333.9L1376.2 1335.5L1379.5 1334.5L1381.5 1335.8L1383.1 1334.8L1383.7 1336.8L1383.2 1338.4L1385 1338.6L1384.7 1339.9L1385.9 1341.4L1385.4 1342.6L1386.6 1343.6L1385 1344.6L1385.7 1346.1L1384.3 1345.5L1384.3 1347.2L1382.4 1347.5L1382.3 1349.6L1380.3 1349.9L1379.4 1351.5L1377.3 1352.6L1375.9 1353L1369.2 1354.2L1367.8 1355.1L1365.4 1355.9L1363.7 1355.1L1361.6 1356.4L1360.6 1357.6L1359 1357.2L1354.4 1359.1L1356.9 1359.1L1354.4 1359.4L1356 1360.1L1356.8 1361.3L1358.7 1362L1360.3 1363.2L1361.8 1364L1362.6 1366.1L1362.5 1368.4L1363.6 1367.2L1363.7 1368.7L1364.5 1370.2L1362.9 1369.4L1364.4 1369.8L1365.5 1371.2L1366.3 1373.2L1367.7 1374.5L1365.5 1373.7L1366.1 1375L1368.1 1374.9L1366.7 1376.7L1367.5 1375.5L1366.3 1376.6L1367.8 1377.4L1368.2 1378.7L1369.6 1380.7L1369.2 1382.3L1367.6 1382.8L1367.5 1384.4L1368.8 1385L1367.5 1386.1L1368.5 1388.7L1368.5 1390.2L1367 1391L1366.6 1392.4L1367.6 1393.8L1366.5 1392.5L1366.5 1394.3L1364.8 1396.1L1365.3 1397.5L1365 1399.2L1364.3 1398.1L1364.1 1399.4L1364.3 1401L1362.6 1401.4L1361.9 1403L1358.9 1404.7L1358.5 1406.5L1357 1406.1L1358 1407.4L1356.8 1406.6L1356.1 1408.2L1355.1 1408.9" stroke-width="11"/>
</g>
<path d="M1347.6 1094.2H2427.8" stroke="#00f000" stroke-width="3.2" stroke-dasharray="3.2 9.9"/>
<path d="M1347.6 1172H2427.8" stroke="#00f000" stroke-width="3.2"/>
<path d="M1347.6 1249.4H2427.8" stroke="#00f000" stroke-width="3.2" stroke-dasharray="3.2 9.9"/>
<path d="M1347.6 1087.1H2427.8" stroke="#0000d6" stroke-width="3.2" stroke-dasharray="3.2 9.9"/>
<path d="M1347.6 1162.5H2427.8" stroke="#0000d6" stroke-width="3.2"/>
<path d="M1347.6 1238.2H2427.8" stroke="#0000d6" stroke-width="3.2" stroke-dasharray="3.2 9.9"/>
<path d="M1347.6 1136.9H2427.8" stroke="#dc0000" stroke-width="3.2" stroke-dasharray="3.2 9.9"/>
<path d="M1347.6 1272H2427.8" stroke="#dc0000" stroke-width="3.2"/>
<path d="M1347.6 1408.4H2427.8" stroke="#dc0000" stroke-width="3.2" stroke-dasharray="3.2 9.9"/>
<text x="1778" y="1140.5" font-size="38.35" fill="#000" text-anchor="middle">Lmean = 2.91cm</text>
<text x="1745.8" y="1206.6" font-size="38.35" fill="#000" text-anchor="middle">Lmed = 3.12cm</text>
<text x="1743.7" y="1307.6" font-size="38.35" fill="#000" text-anchor="middle">Lmax = 5.27cm</text>
<rect x="1347.6" y="1026.4" width="1080.2" height="630.4" fill="none" stroke="#2b2b2b" stroke-width="3.7"/>
</g>
</g>
<g id="panelE">
<clipPath id="cE"><rect x="125.5" y="1868.1" width="1079.8" height="628.7"/></clipPath>
<text x="39.3" y="1727.5" font-size="45.0" fill="#000" text-anchor="start">(E) 1Dp:3Ar</text>
<text x="665.4" y="1801.7" font-size="47.5" fill="#000" text-anchor="middle">Luminophores (pixels)</text>
<text x="44.6" y="2182.4" font-size="47.5" fill="#000" text-anchor="middle" transform="rotate(-90 44.6 2182.4)">Depth (cm)</text>
<text x="128.3" y="1852.3" font-size="41.3" fill="#4d4d4d" text-anchor="middle">0</text>
<text x="427.1" y="1852.3" font-size="41.3" fill="#4d4d4d" text-anchor="middle">500</text>
<text x="725.8" y="1852.3" font-size="41.3" fill="#4d4d4d" text-anchor="middle">1000</text>
<text x="1024.5" y="1852.3" font-size="41.3" fill="#4d4d4d" text-anchor="middle">1500</text>
<text x="108.5" y="1884.3" font-size="41.3" fill="#4d4d4d" text-anchor="end">0</text>
<text x="108.5" y="2117.1" font-size="41.3" fill="#4d4d4d" text-anchor="end">5</text>
<text x="108.5" y="2349.9" font-size="41.3" fill="#4d4d4d" text-anchor="end">10</text>
<path d="M128.3 1868.1v-9.2M427.1 1868.1v-9.2M725.8 1868.1v-9.2M1024.5 1868.1v-9.2M125.5 1868.5h-9.2M125.5 2101.3h-9.2M125.5 2334.1h-9.2" stroke="#2b2b2b" stroke-width="3" fill="none"/>
<g clip-path="url(#cE)">
<g fill="none" stroke="#ababab" stroke-linecap="round" stroke-linejoin="round">
<path d="M129.6 1869L129.6 1910.8L130.9 1911.8M130.2 2308.9L129.6 2310.1L129.6 2475.7" stroke-width="6.5"/>
<path d="M130.8 2308.2L130.2 2308.9" stroke-width="7"/>
<path d="M130.9 1911.8L131.4 1912M131.2 2308L130.8 2308.2" stroke-width="7.5"/>
<path d="M131.4 1912L131.6 1912.3M131.1 2308L131.2 2308" stroke-width="8.5"/>
<path d="M131.5 2307.1L131.1 2308" stroke-width="9"/>
<path d="M131.6 1912.3L133.1 1912.9M132.4 2306.9L131.5 2307.1" stroke-width="9.5"/>
<path d="M132.1 2307.3L132.4 2306.9" stroke-width="10"/>
<path d="M133.1 1912.9L133.7 1913.2M133 2305.9L132.1 2307.3" stroke-width="10.5"/>
<path d="M133.7 1913.2L134.8 1914.1L139.2 1914.3L141.2 1914.9L142.6 1915.7L144.7 1918.3L146 1917.5L146.1 1919.3L147.4 1919.5L148.3 1920.7L150.8 1920.9L149.6 1922.5L151.6 1922.9L150.1 1921.6L151.7 1922.8L151.3 1924.1L152.8 1924L153.8 1924.8L152.8 1925.8L154.6 1925.7L154.8 1927.5L156.2 1926.9L156.6 1928.2L158.4 1928.6L157.1 1929.1L159.2 1929.2L158.5 1930.7L159.8 1931.2L160.9 1932.6L162.8 1932.4L161.4 1934.2L163 1934.7L164.4 1935.5L163 1935.6L164.7 1935.9L164.3 1937.4L166 1936.7L166.3 1937.9L166.3 1939.7L167.8 1940.1L167.9 1941.6L169.6 1943.2L170 1944.6L171.7 1945L171.8 1946.7L171.4 1948.2L172.8 1947.7L173.1 1949.4L174.4 1950.2L172.9 1949.3L173.1 1950.8L174.5 1950.8L174.1 1952.3L172.1 1952.4L173.3 1953.4L171.1 1953.6L170.3 1954.8L169.4 1955.7L169.8 1957.5L170.8 1959L171.9 1957.9L171.4 1960.5L172.7 1959.8L172.6 1961.2L175.2 1962.9L174.4 1961.2L174.6 1963.2L174 1964.4L175.5 1963.8L176.3 1965.5L174.6 1964.4L175.7 1966.3L173.6 1965.3L174.9 1966.9L172.9 1967.1L172.6 1968.4L170.9 1969.4L170.4 1971.3L168.3 1971.6L167.9 1973.4L168 1972.1L167.5 1973.4L168.4 1974.9L168.5 1977.4L169.6 1976.1L169.2 1978L170.7 1978.1L170.9 1979.4L171.5 1980.6L173.6 1981.5L172.6 1982.4L174.4 1981.8L175.6 1983.8L177.4 1985L178.8 1984.7L179.4 1986L180.9 1987L181.7 1988.1L183.1 1987.6L184.3 1989.3L185.9 1990.1L187.2 1991.2L189.8 1991.6L190.8 1994.3L192.2 1993.8L193.5 1994L193.5 1996L195 1995.5L195.4 1997.4L197.2 1996.7L197.8 1998.4L199.4 1998.3L201 1999.8L201.1 2001.4L203.3 2000.1L204.2 2001.1L206.4 2002.8L208.1 2002.8L210.3 2004.4L212.4 2003.8L216.4 2005.1L217.9 2006.2L222 2004.7L221.5 2006.1L223.3 2006.6L223.9 2008.2L225.2 2009.1L224.6 2010.4L226.2 2010.1L225.6 2011.6L224.7 2012.7L226.3 2011.3L226.2 2013L224.7 2014.3L226.2 2014.6L225.2 2015.9L224.7 2014.6L224.7 2016.1L224.3 2017.8L226 2017.3L226.9 2018.5L228.5 2018.2L229.6 2019.6L231.6 2020.1L233 2020.3L234.4 2021.2L236 2021.4L237.3 2023.1L239.6 2023.6L239.6 2022.2L241.4 2024.1L242.2 2025.4L246.5 2024.2L249.1 2025.3L250.7 2027L251.7 2026L254.5 2027.1L256.4 2027.1L257.9 2027.9L259.8 2027.6L261.4 2027.9L262 2029.1L264.4 2028.1L266.4 2029.1L269.4 2030.1L271 2029.8L274.3 2030.4L276.1 2030.9L278 2030.9L279.3 2030.3L280.6 2032.1L282.4 2031.9L282.4 2033.2L285.1 2033L286.7 2034.5L288.8 2033.9L290.2 2035L292 2034.9L293 2036.9L295.2 2037.9L297.2 2037.8L296.7 2039.3L300.4 2037.2L301.2 2038.8L303.8 2039.2L305.2 2038.6L307.4 2040.1L308.8 2039.2L311.4 2039.1L313.3 2040.2L315.7 2040.4L317 2040.8L317.6 2042.1L315.9 2042.1L314.3 2043.6L312.2 2044L313.3 2043.1L312.4 2044.6L310.6 2045.2L308.8 2047L307 2046.2L306.6 2047.5L308.8 2048.2L310.3 2049.1L311.7 2048.4L312.9 2049.5L314.6 2049.9L317.6 2052.2L318.9 2051.9L321.9 2050.5L320.6 2052.5L322.4 2052.9L320.5 2053.6L322.6 2054.1L321.3 2053.4L322.9 2055.1L321.5 2055.5L323.4 2056.3L323.5 2054.9L323.1 2056.8L318.2 2057.8L315.2 2059.3L312.6 2059.6L310.9 2059.1L310.8 2060.8L309.1 2060.7L306.6 2061.1L304.5 2062.5L301.2 2063.4L301.7 2065L300.7 2066.1L301 2069.2L299 2068.1L300.5 2068.2L299.9 2069.6L298.5 2070.2L299.7 2070.9L298.9 2072.5L297.2 2070.7L297.6 2072.9L295.8 2072.3L294.1 2072.7L295.9 2074.7L293.6 2073.5L291.8 2075.6L289.3 2074.9L289.3 2076.7L287.8 2076.9L286.6 2077.5L286 2079.2L284.5 2079.3L285.2 2081.1L283.1 2081.6L282.4 2084.1L281.3 2085.5L280.1 2085L278.4 2086.1L275.3 2085.5L274.5 2086.7L271.7 2086.3L270 2086.6L268.4 2087.8L266.6 2088L264.4 2089L262.9 2087.5L261.4 2088.4L259.2 2088.9L256.3 2090.5L255.1 2089.9L253.2 2090.3L251.4 2091.1L249.7 2089.6L248.1 2090.8L246.8 2091.2L244.9 2093.1L242.6 2091.6L240.7 2091.2L238.8 2093L237.8 2092.1L235.7 2093.8L233.4 2094.8L229.9 2094.8L226.4 2095.6L226 2096.8L224.4 2097.6L225.4 2096.1L225.7 2097.9L224.2 2098.5L223.5 2099.8L222.7 2100.8L222.3 2102.2L220.7 2102.8L221.3 2104L220.3 2105L221.7 2105.8L221.6 2107.2L221.7 2105.8L222.6 2107.3L223.3 2111.2L224.2 2112.2L224.2 2113.9L225.1 2116L224.3 2117.1L224.5 2118.8L223.6 2120.3L223.7 2121.7L223.4 2123.9L220.8 2123.9L222.6 2124.3L221.3 2125.5L219.5 2125.1L218.1 2127L219.2 2128.3L217.5 2127.7L215.7 2128.9L215.1 2130.7L214 2129.9L212.6 2131.1L212.7 2132.7L211.3 2132.2L209.7 2132.3L208.1 2132.8L206.8 2133.7L204.7 2134.8L200.9 2135.7L200 2137.3L198.5 2136.8L196.8 2137.1L195.5 2139L193.7 2140L191.6 2138.7L190.1 2141L188 2140.4L187 2141.3L183.2 2142.5L180.6 2143.5L179.2 2144.4L177.3 2144L175.6 2144L174.5 2146.9L173.8 2145.8L171.3 2147.7L169.2 2147.2L167.7 2148.3L162.7 2149.2L161.9 2150.3L159.4 2149.8L159.9 2151L158.5 2150.6L157.4 2151.6L155.5 2151.7L153.3 2151.5L147.9 2153.9L145.7 2154.7L144.4 2155.6L143.3 2156.9L142.1 2155.7L143 2157.2L141.3 2156.9L140.4 2158.3L138.1 2157.8L139.2 2158.8L137.8 2159.3L136.7 2161.4L135.4 2162.3L134.8 2163.5L136.7 2166L135.8 2167.2L137.4 2167.2L136.1 2167.7L137.9 2168.7L136.3 2167.5L136.2 2169.4L137.6 2168.9L136.3 2169.1L136.1 2170.6L137.5 2170.5L138.1 2172.1L137.3 2173.6L137.9 2174.9L138.9 2176.4L137.7 2177.2L138.9 2178.5L139.5 2179.8L140.9 2180.9L139 2181L140.4 2181.5L138.7 2184L140.3 2183.9L141.3 2185.5L139.5 2184.1L140.2 2185.9L142.3 2185.8L140.7 2186.6L141.3 2188.4L141.5 2189.8L142.5 2191.7L141.5 2193L142.1 2191.2L141.5 2194.4L142.2 2195.7L141.1 2197.4L142.8 2197.7L141.5 2197L141.7 2198.3L140.6 2199.5L141.7 2199L142.4 2202.8L141.4 2205.7L141.7 2207.5L140.5 2208.1L141.7 2208.7L141.5 2207.4L140.6 2209.5L141.9 2209.8L140.1 2209.9L140.8 2211.2L139.8 2212.2L140.5 2213.5L139.1 2214.1L140.4 2215.5L141.4 2214.4L140.8 2216.3L142 2215.6L141.1 2217.3L142.6 2216.3L143 2217.6L144.2 2216.6L145.3 2218.6L146.2 2219.6L147.6 2220.3L148.9 2220.5L150.6 2222.9L152 2223.2L153 2224.5L154.4 2225.4L156.6 2226.5L158.3 2227.9L162.8 2228.9L164 2231.4L165.9 2230.6L167.7 2231.3L170.2 2232.7L172.3 2232.7L173.9 2233.3L174.2 2234.8L174.8 2236L175.3 2237.7L176.6 2236.9L175.9 2238.2L177.4 2239.4L177 2240.9L178.5 2240.7L177 2241.1L178.5 2241.9L179.1 2243.1L180.7 2243.8L181.8 2245L180.5 2245.1L181.9 2246.1L183.1 2245.4L183 2246.8L183.2 2248.5L182.4 2250.1L183.5 2248.9L183.7 2250.5L184.7 2249.7L184 2250.9L184.8 2252L183.2 2251.2L184.7 2251.6L186 2253L187 2255L188.6 2256.3L186.5 2255.5L187.2 2256.8L189.2 2256.7L187.8 2258.5L188.6 2257.3L187.2 2258.4L188.6 2259.2L189.4 2260.4L190 2262.5L190.1 2264L188.8 2264.6L189 2266.1L190.4 2266.8L185.3 2267.9L185 2269.2L183.6 2269.1L182.3 2269.4L180.4 2270.6L177.2 2271.4L175.5 2272.2L173.8 2274L174.7 2275.6L173.5 2274.2L173.4 2276L172.2 2276.9L171.3 2277.9L171.5 2279.3L171.1 2280.9L170.2 2279.9L169.7 2282.8L167.9 2283.1L167 2284.8L165.2 2285.5L164.5 2286.7L163 2288.3L161.3 2287.8L162.2 2289.1L161 2288.4L160.1 2290L159 2290.7L158.1 2292.6L155.5 2293.2L152.8 2293.1L152.3 2294.9L150.5 2296.3L150.2 2294.8L149.2 2297L148.5 2295.7L147.2 2297.1L145.5 2297.9L143.1 2298L141.1 2299.3L139.5 2299.9L137.5 2301L136.3 2303.2L135.1 2302.4L134.8 2304.5L133 2305.9" stroke-width="11"/>
</g>
<path d="M125.5 1990.6H1205.3" stroke="#00f000" stroke-width="3.2" stroke-dasharray="3.2 9.9"/>
<path d="M125.5 2056H1205.3" stroke="#00f000" stroke-width="3.2"/>
<path d="M125.5 2121.3H1205.3" stroke="#00f000" stroke-width="3.2" stroke-dasharray="3.2 9.9"/>
<path d="M125.5 1962.7H1205.3" stroke="#0000d6" stroke-width="3.2" stroke-dasharray="3.2 9.9"/>
<path d="M125.5 2034.2H1205.3" stroke="#0000d6" stroke-width="3.2"/>
<path d="M125.5 2106H1205.3" stroke="#0000d6" stroke-width="3.2" stroke-dasharray="3.2 9.9"/>
<path d="M125.5 2118.3H1205.3" stroke="#dc0000" stroke-width="3.2" stroke-dasharray="3.2 9.9"/>
<path d="M125.5 2242.6H1205.3" stroke="#dc0000" stroke-width="3.2"/>
<path d="M125.5 2366.2H1205.3" stroke="#dc0000" stroke-width="3.2" stroke-dasharray="3.2 9.9"/>
<text x="840.3" y="2011.1" font-size="38.35" fill="#000" text-anchor="middle">Lmean = 3.56cm</text>
<text x="523.6" y="2090.3" font-size="38.35" fill="#000" text-anchor="middle">Lmed = 4.03cm</text>
<text x="521.2" y="2276.8" font-size="38.35" fill="#000" text-anchor="middle">Lmax = 8.03cm</text>
<rect x="125.5" y="1868.1" width="1079.8" height="628.7" fill="none" stroke="#2b2b2b" stroke-width="3.7"/>
</g>
</g>
<g id="panelF">
<clipPath id="cF"><rect x="1360.4" y="1868.1" width="1079.8" height="628.7"/></clipPath>
<text x="1274.2" y="1727.5" font-size="45.0" fill="#000" text-anchor="start">(F) 0Dp:4Ar</text>
<text x="1900.3" y="1801.7" font-size="47.5" fill="#000" text-anchor="middle">Luminophores (pixels)</text>
<text x="1279.5" y="2182.4" font-size="47.5" fill="#000" text-anchor="middle" transform="rotate(-90 1279.5 2182.4)">Depth (cm)</text>
<text x="1363.2" y="1852.3" font-size="41.3" fill="#4d4d4d" text-anchor="middle">0</text>
<text x="1662" y="1852.3" font-size="41.3" fill="#4d4d4d" text-anchor="middle">500</text>
<text x="1960.7" y="1852.3" font-size="41.3" fill="#4d4d4d" text-anchor="middle">1000</text>
<text x="2259.4" y="1852.3" font-size="41.3" fill="#4d4d4d" text-anchor="middle">1500</text>
<text x="1343.4" y="1884.3" font-size="41.3" fill="#4d4d4d" text-anchor="end">0</text>
<text x="1343.4" y="2117.1" font-size="41.3" fill="#4d4d4d" text-anchor="end">5</text>
<text x="1343.4" y="2349.9" font-size="41.3" fill="#4d4d4d" text-anchor="end">10</text>
<path d="M1363.2 1868.1v-9.2M1662 1868.1v-9.2M1960.7 1868.1v-9.2M2259.4 1868.1v-9.2M1360.4 1868.5h-9.2M1360.4 2101.3h-9.2M1360.4 2334.1h-9.2" stroke="#2b2b2b" stroke-width="3" fill="none"/>
<g clip-path="url(#cF)">
<g fill="none" stroke="#ababab" stroke-linecap="round" stroke-linejoin="round">
<path d="M1364.4 1869L1364.4 1948L1365.2 1949.3L1367.6 1951.1M1367.6 2281.9L1366.5 2292.8L1367.6 2314.5M1367.5 2348.6L1364.5 2357.6L1364.4 2476.3" stroke-width="6.5"/>
<path d="M1367.6 1951.1L1368.7 1952.1M1368.4 2277.9L1367.6 2281.9M1367.6 2314.5L1368.4 2322.2L1368.4 2324.5M1368.6 2347.2L1367.5 2348.6" stroke-width="7"/>
<path d="M1368.7 1952.1L1369.8 1952.7M1369.3 2275.4L1368.4 2277.9M1368.4 2324.5L1369 2328.7L1369.3 2329.2M1369 2346.8L1368.6 2347.2" stroke-width="7.5"/>
<path d="M1369.8 1952.7L1370.1 1953.1M1369.9 2274.1L1369 2275.1L1369.3 2275.4M1369.3 2329.2L1369.7 2330.7M1369.7 2345.9L1369 2346.8" stroke-width="8"/>
<path d="M1370.1 1953.1L1370 1953.6M1370 2205.8L1369.7 2207.2L1371.3 2208.1M1370.1 2272.6L1369.9 2274.1M1369.7 2330.7L1370.1 2331.7M1370.5 2345.4L1369.7 2345.9" stroke-width="8.5"/>
<path d="M1370 1953.6L1370.6 1953.3M1371.3 2205.3L1370 2205.8M1371.3 2208.1L1370.9 2208.9M1371.2 2270.9L1370.6 2272.2L1370.1 2272.6M1370.1 2331.7L1370.6 2333.1L1371.2 2332.5M1370.9 2344.3L1370.5 2345.4" stroke-width="9"/>
<path d="M1370.6 1953.3L1371.3 1954.1M1371.6 2203.4L1370.9 2205L1371.3 2205.3M1370.9 2208.9L1370.9 2209.5M1371.7 2268.7L1371.1 2270.6L1371.2 2270.9M1371.2 2332.5L1371.6 2334.1L1371.6 2333.7M1371.1 2344L1370.9 2344.3" stroke-width="9.5"/>
<path d="M1371.3 1954.1L1372.7 1954.6M1372.2 2202.1L1370.9 2203.1L1371.7 2204.3L1371.6 2203.4M1370.9 2209.5L1372.3 2210.6L1373.3 2211.8M1372.6 2265.6L1372.4 2267.4L1371.3 2268.7L1371.7 2268.7M1371.6 2333.7L1371.5 2335.1L1372.1 2335.5M1372.4 2342.5L1371.6 2344L1371.1 2344" stroke-width="10"/>
<path d="M1372.7 1954.6L1372.9 1956.4L1374 1956.5M1374.5 2201.1L1373.2 2200.8L1372.2 2202.1M1373.3 2211.8L1373.1 2213.3L1373.8 2214.6M1374.4 2260L1373.4 2261.1L1371.9 2261.8L1373.3 2262.9L1372.6 2264L1372.3 2265.7L1372.6 2265.6M1372.1 2335.5L1373.8 2337.5L1373.6 2337.9M1373.2 2341.2L1372.4 2342.5" stroke-width="10.5"/>
<path d="M1374 1956.5L1376.2 1956.9L1377.3 1958L1379.6 1957.2L1380.3 1959L1382 1958.5L1385 1960.4L1389.6 1960.6L1388.2 1962.1L1389.9 1962.6L1388.2 1961.2L1389.5 1962.5L1388.8 1963.8L1390.1 1963.6L1389 1965.5L1390.5 1965.4L1389 1965.1L1390.6 1964.7L1390.1 1966.6L1390.7 1967.9L1392.1 1968.9L1391 1970.4L1392.3 1971.6L1392.3 1973.4L1393.5 1972.1L1392 1973.9L1394.3 1975.2L1392.7 1975.3L1394.1 1979.4L1396 1979.7L1394.7 1981.3L1395.7 1982.9L1393.5 1982.5L1393.2 1984.3L1389.5 1985.1L1388.4 1986.4L1385.9 1986.7L1382.8 1986.9L1381.9 1988.5L1380.5 1989.2L1379.6 1990.5L1382 1991.2L1380.9 1992.7L1382.2 1993.6L1381 1994.5L1382.6 1995.6L1381 1995.6L1382.5 1996.2L1383.4 1997.7L1383.7 2000.2L1384.8 1999.4L1383.6 2000.1L1386.4 2002.6L1385.5 2000.9L1385.6 2002.9L1384.7 2004.1L1386.1 2003.5L1386.8 2005.2L1385.4 2004.1L1387.8 2006L1386.2 2005L1387.9 2006.6L1386.2 2006.5L1387.6 2007.5L1388 2008.9L1389.6 2010.9L1390.2 2013.1L1390.9 2011.8L1390.9 2013.1L1392.6 2013.8L1392.9 2015.6L1393.4 2017L1394.5 2015.8L1394.1 2017.7L1395.7 2017.8L1395.9 2019.1L1396.6 2020.3L1398 2019.8L1401.7 2022.3L1403.2 2021.5L1405.2 2023.5L1407.5 2024.6L1411.2 2025.7L1413.3 2026.7L1414.4 2025.6L1414.7 2027.4L1416.9 2027.3L1418.7 2029L1421.2 2029.2L1423.2 2029.7L1425.5 2029.8L1428.3 2030.9L1430.3 2030.9L1432.7 2031.3L1435 2030.8L1435.4 2032.5L1437.6 2034L1438.9 2033.7L1440.6 2033.8L1443.3 2033.3L1445.1 2033.7L1446.1 2035.7L1447.2 2034.9L1448.3 2036.2L1448.3 2038L1450 2039.5L1449 2040.4L1452.6 2039.8L1457.9 2041.2L1461.9 2041.2L1463.9 2042.5L1466.2 2042.5L1469.7 2044.1L1472.4 2043.5L1473.8 2043.5L1477.9 2044.7L1479.6 2045.9L1483.7 2044.4L1483.4 2045.8L1488.2 2047.1L1491.1 2046.7L1492 2047.9L1493.7 2048.2L1500.2 2048.8L1501.4 2049.8L1504.3 2049.7L1505.6 2050.8L1505.9 2052.4L1508.1 2050.9L1508.7 2052.1L1511.2 2052.8L1513.5 2054.3L1513.4 2055.6L1513.7 2054.3L1514.9 2055.3L1518.1 2056.5L1523.8 2057.1L1525.7 2058.2L1528.9 2057.9L1530.3 2058.5L1534.7 2059.2L1536.7 2058.3L1539.7 2059.8L1541.7 2060.4L1544.2 2059.9L1547 2059.7L1548.6 2060.9L1551.6 2061.1L1554.3 2062.7L1556.8 2062.4L1558.7 2063.3L1559.4 2061.9L1563.5 2065.1L1564.7 2064.1L1566.7 2064.5L1568.6 2063.9L1571.1 2065L1570.8 2066.7L1569.4 2065.7L1565.7 2067.6L1564.4 2067.6L1562.5 2068.8L1559.5 2069.8L1555.4 2070.6L1554.1 2069.9L1553 2071.8L1551 2072.9L1548.5 2072.6L1546.8 2073.2L1545.7 2074.2L1541.7 2074.8L1540.4 2074.3L1537.5 2075.5L1536.6 2076.6L1534.9 2077.6L1533.5 2077.2L1530.6 2079L1531.4 2076.8L1529.1 2078.5L1527.1 2078.3L1526.9 2079.7L1525.7 2078.9L1524 2080.5L1523.6 2081.8L1522.3 2081.7L1520.9 2083.3L1521.6 2082.2L1520.6 2082.8L1520 2084.3L1517.6 2084.8L1515 2086.6L1512.3 2085.9L1511.1 2087.2L1509.8 2088L1508.6 2087.2L1506.6 2087.9L1505.5 2088.8L1502 2089.8L1500.9 2090.8L1499.1 2090.6L1497.9 2091.9L1496 2091.7L1496.5 2090.2L1494 2092.2L1492.1 2093.3L1492.1 2094.8L1490.6 2095.2L1489.2 2095.1L1490.6 2096L1490.3 2094.6L1489.6 2096.5L1488 2097.5L1486.3 2099L1485.6 2100.4L1484.1 2100.4L1482.1 2100.8L1480.5 2102.2L1477.7 2103.1L1476.3 2103.8L1474.9 2104.9L1473.4 2104.9L1472 2104.6L1471.2 2105.8L1468.2 2106.1L1468.1 2108.8L1465.5 2107.8L1466.9 2107.8L1467.2 2109.3L1465.9 2109.9L1467.3 2110.6L1468.1 2112.2L1467 2110.4L1468.1 2112.6L1469.3 2114.3L1467.7 2113.2L1468.9 2114.2L1467.7 2115.2L1469.1 2116.4L1472.2 2117.9L1473.8 2118.2L1474.8 2119.6L1477.6 2120.8L1479.5 2120L1481.1 2121.4L1483.2 2121.9L1483.1 2123.8L1484.4 2123.1L1486 2123.9L1487.6 2125.1L1488.5 2126.3L1487.4 2127.5L1486.6 2128.6L1487 2130.2L1486.9 2132.8L1486.3 2131.3L1485.7 2132.7L1486.8 2134.5L1484.7 2134.9L1484.2 2136.5L1482.1 2137.3L1482.4 2135.8L1482.2 2137.6L1479.9 2138L1478.7 2137.6L1476.7 2137.9L1476 2139.5L1472.6 2141.4L1470.9 2140.9L1468.1 2142.5L1466.8 2142.9L1465.5 2143.7L1464.4 2142.5L1464.2 2144.3L1461.8 2144.6L1460 2147.2L1458.5 2146.2L1457.7 2148L1455.8 2150L1455.7 2151.7L1454.3 2150.3L1454.7 2151.9L1453.4 2153.1L1452.6 2151.9L1452.7 2153.5L1451.5 2154.5L1452.1 2155.7L1450 2155.2L1450 2156.8L1448 2157.6L1446.8 2158.7L1444.6 2159.9L1444.3 2161.4L1442.6 2162.2L1442.3 2163.6L1439.8 2163.6L1441.5 2164L1440.3 2165.2L1438.5 2164.8L1437.1 2166.7L1438.3 2168L1436.7 2167.4L1434.9 2168.6L1434 2170.4L1432.6 2169.6L1431.1 2170.8L1431.5 2172.3L1430.7 2170.6L1429.3 2172L1426 2174.4L1424.4 2175L1423.1 2177L1421.9 2176.4L1420.7 2177.6L1419.2 2178.3L1418.9 2179.7L1417.1 2178.4L1416.6 2180.7L1414.9 2180.1L1414.2 2181.5L1410.7 2182.1L1412.2 2182.8L1407.6 2183.7L1405.5 2186.6L1404.3 2185.4L1403.2 2187.4L1401.6 2186.9L1400.7 2188L1399 2188.6L1397 2188.9L1396 2190L1393.3 2189.4L1393.7 2190.7L1392.2 2190.3L1391 2191.2L1388.9 2191.4L1386.6 2191.2L1380.3 2193.6L1378.2 2193.3L1375.6 2195.3L1375.4 2196.6L1374.7 2195.4L1376 2196.9L1375.2 2198L1373.4 2197.5L1374.9 2198.5L1373.8 2199.5L1374.5 2201.1M1373.8 2214.6L1374.1 2215.9L1375.5 2216.1L1374.4 2216.9L1375.5 2218.2L1374.4 2219.3L1376.4 2220.6L1375.2 2220.1L1374.5 2222.2L1373.1 2223.7L1374.5 2223.5L1375.3 2225.2L1373.3 2223.8L1373.8 2225.6L1376 2225.4L1374.6 2226.3L1376 2226.1L1376.2 2228.1L1377.3 2229.5L1379.5 2231.4L1378.8 2232.7L1379.5 2230.8L1379.4 2232.5L1380.4 2234.1L1380.9 2235.4L1379.4 2237.1L1380.9 2237.4L1379.4 2236.6L1379.5 2238L1378.3 2239.2L1379.3 2238.7L1378.9 2240.1L1378.9 2242.5L1378.6 2244L1378.6 2245.3L1379.2 2247.2L1378.7 2249.2L1380.2 2249.5L1378.6 2249.6L1379.5 2250.8L1377.6 2251.9L1377.7 2253.2L1376.4 2254.2L1374.6 2256L1374.3 2257.3L1372.7 2257.7L1374.4 2256.3L1374.5 2258.3L1373.4 2259.3L1374.4 2260M1373.6 2337.9L1374.4 2339.1L1373.9 2340.6L1373.2 2341.2" stroke-width="11"/>
</g>
<path d="M1360.4 2045.2H2440.2" stroke="#00f000" stroke-width="3.2" stroke-dasharray="3.2 9.9"/>
<path d="M1360.4 2099.9H2440.2" stroke="#00f000" stroke-width="3.2"/>
<path d="M1360.4 2155.7H2440.2" stroke="#00f000" stroke-width="3.2" stroke-dasharray="3.2 9.9"/>
<path d="M1360.4 2002.9H2440.2" stroke="#0000d6" stroke-width="3.2" stroke-dasharray="3.2 9.9"/>
<path d="M1360.4 2048.5H2440.2" stroke="#0000d6" stroke-width="3.2"/>
<path d="M1360.4 2093.7H2440.2" stroke="#0000d6" stroke-width="3.2" stroke-dasharray="3.2 9.9"/>
<path d="M1360.4 2103.2H2440.2" stroke="#dc0000" stroke-width="3.2" stroke-dasharray="3.2 9.9"/>
<path d="M1360.4 2227.1H2440.2" stroke="#dc0000" stroke-width="3.2"/>
<path d="M1360.4 2350.7H2440.2" stroke="#dc0000" stroke-width="3.2" stroke-dasharray="3.2 9.9"/>
<text x="1790.1" y="2026.3" font-size="38.35" fill="#000" text-anchor="middle">Lmean = 3.87cm</text>
<text x="1758" y="2135.2" font-size="38.35" fill="#000" text-anchor="middle">Lmed = 4.99cm</text>
<text x="1756" y="2261.6" font-size="38.35" fill="#000" text-anchor="middle">Lmax = 7.70cm</text>
<rect x="1360.4" y="1868.1" width="1079.8" height="628.7" fill="none" stroke="#2b2b2b" stroke-width="3.7"/>
</g>
</g>
</svg>
</body>
</html>
